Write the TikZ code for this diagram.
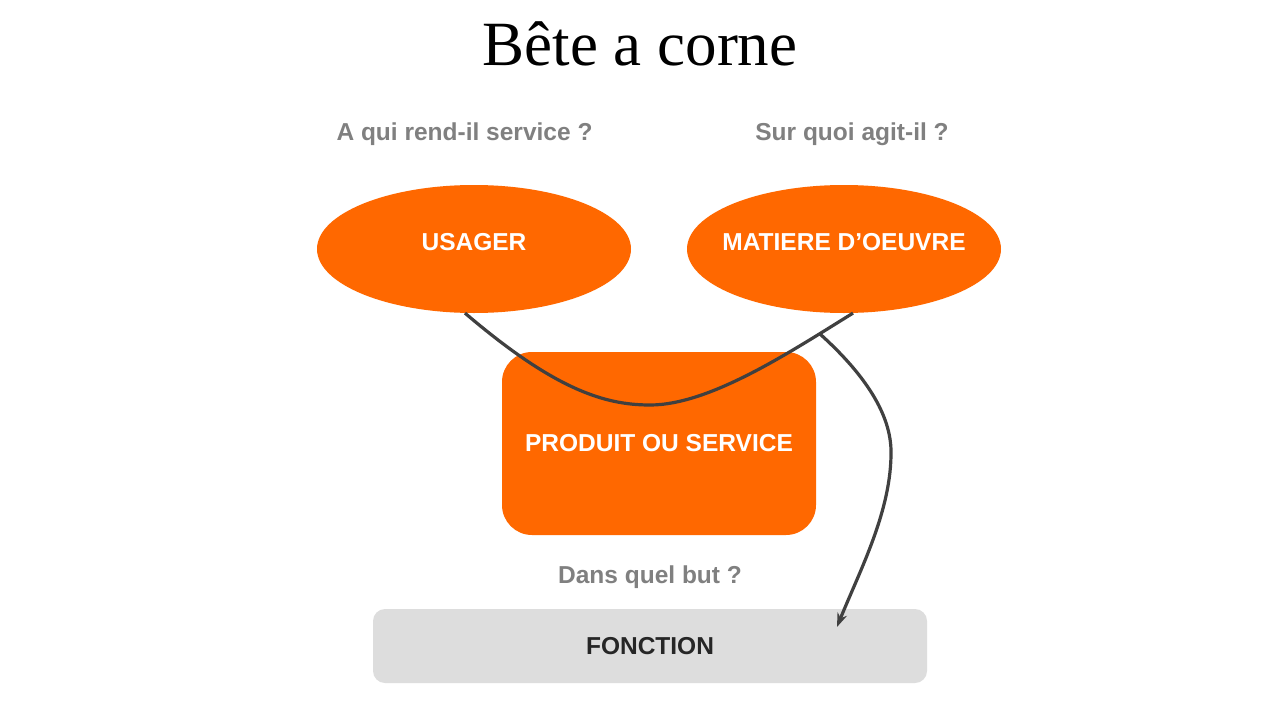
\documentclass[tikz,border=0pt]{standalone}
\usepackage{fontspec}
\setmainfont{Liberation Sans}
\newfontfamily\titlefont{Liberation Serif}
\usetikzlibrary{positioning}
\usetikzlibrary{shapes.geometric}
\usetikzlibrary{arrows.meta}
\definecolor{orangeBC}{RGB}{255,104,0}
\definecolor{grisQ}{RGB}{128,128,128}
\definecolor{grisF}{RGB}{221,221,221}
\definecolor{trait}{RGB}{64,64,64}

\begin{document}
\begin{tikzpicture}[x=1pt,y=-1pt,
  every node/.style={font=\fontsize{24.5}{29}\selectfont\bfseries},
  bulle/.style={ellipse,fill=orangeBC,minimum width=314pt,minimum height=128pt,
    label={[text=white,yshift=7pt]center:#1}},
  question/.style={text=grisQ,anchor=base},
  fil/.style={draw=trait,line width=3.2pt}]

\useasboundingbox[fill=white] (0,0) rectangle (1280,720);

\node[anchor=base,font=\titlefont\fontsize{63}{70}\selectfont] (titre) at (640,65) {Bête a corne};

\node[bulle=USAGER] (usager) at (474,249) {};
\node[bulle=MATIERE D’OEUVRE] (matiere) at (844,249) {};
\node[fill=orangeBC,text=white,rounded corners=30pt,minimum width=314pt,minimum height=183pt] (produit) at (659,443.5) {PRODUIT OU SERVICE};
\node[fill=grisF,text=black!85,rounded corners=12pt,minimum width=554pt,minimum height=74pt] (fonction) at (650,646) {FONCTION};

\node[above=44pt of usager.north,xshift=-9.5pt,question] (qui) {A qui rend-il service ?};
\node[above=44pt of matiere.north,xshift=8pt,question] (quoi) {Sur quoi agit-il ?};
\node[above=25pt of fonction.north,question] (but) {Dans quel but ?};

\draw[fil] (usager.-98) .. controls (555,390) and (605,405) .. (650,405) .. controls (710,405) and (790,352) .. (matiere.-82);

\coordinate (branche) at (820,334);
\coordinate (pointe) at (837,627);
\draw[fil,-{Stealth[length=14pt,width=10pt]}] (branche) .. controls (860,370) and (890,410) .. (891,450) .. controls (892,510) and (860,570) .. (pointe);
\end{tikzpicture}
\end{document}
